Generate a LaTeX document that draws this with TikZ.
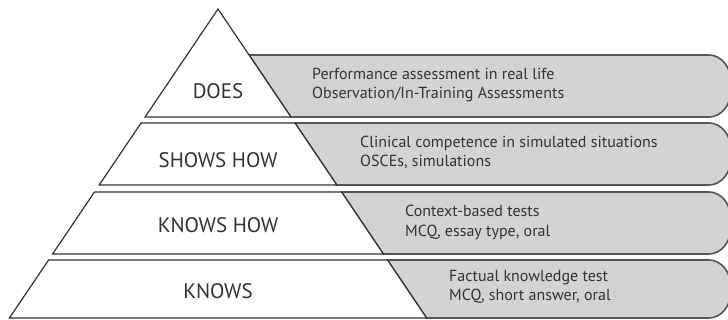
\documentclass[tikz,border=0pt]{standalone}
\usepackage{fontspec}
\setmainfont{PT Sans}
\definecolor{bandagris}{HTML}{D3D3D3}
\definecolor{bordegris}{HTML}{555555}
\definecolor{textogris}{HTML}{333333}
\begin{document}
\begin{tikzpicture}[x=1pt,y=-1pt,
  banda/.style={draw=bordegris,fill=bandagris,line width=1.6pt},
  capa/.style={draw=textogris,fill=white,line width=1.2pt,line join=miter},
  etiqueta/.style={text=textogris,font=\fontsize{21}{24}\selectfont,inner sep=0pt},
  detalle/.style={text=textogris,font=\fontsize{16}{19.5}\selectfont,align=left,anchor=west,inner sep=0pt}]
\def\pend{0.675};%pendiente de los lados
\def\cx{218};%vertice x
\def\cy{9};%vertice y
\def\xfin{731};%extremo derecho de las bandas
\def\rx{22};%radio horizontal del extremo
\def\ry{27};%radio vertical del extremo
\useasboundingbox (0,0) rectangle (728,320);
\clip (0,0) rectangle (728,320);

%Bandas grises
\foreach \t/\b in {55/117,123/185,192/254,260/318}{
    \draw[banda] ({\cx+\pend*(\b-\cy)},\b) -- ({\cx+\pend*(\t-\cy)},\t) -- (\xfin-\rx,\t)
        arc[start angle=-90,end angle=0,x radius=\rx,y radius=\ry] -- (\xfin,\b-\ry)
        arc[start angle=0,end angle=90,x radius=\rx,y radius=\ry] -- cycle;
}

%Piramide
\draw[capa] (\cx,\cy) -- ({\cx+\pend*(117-\cy)},117) -- ({\cx-\pend*(117-\cy)},117) -- cycle;
\foreach \t/\b in {123/185,192/254,260/318}{
    \draw[capa] ({\cx-\pend*(\t-\cy)},\t) -- ({\cx+\pend*(\t-\cy)},\t) -- ({\cx+\pend*(\b-\cy)},\b) -- ({\cx-\pend*(\b-\cy)},\b) -- cycle;
}

%Niveles
\node[etiqueta] (does) at (\cx,91) {DOES};
\node[etiqueta] (shows) at (\cx,160) {SHOWS HOW};
\node[etiqueta] (knowshow) at (\cx,225) {KNOWS HOW};
\node[etiqueta] (knows) at (\cx,291) {KNOWS};

%Evaluacion
\node[detalle] (tdoes) at (312,85) {Performance assessment in real life\\Observation/In-Training Assessments};
\node[detalle] (tshows) at (360,152.5) {Clinical competence in simulated situations\\OSCEs, simulations};
\node[detalle] (tknowshow) at (405,222.5) {Context-based tests\\MCQ, essay type, oral};
\node[detalle] (tknows) at (449,287) {Factual knowledge test\\MCQ, short answer, oral};
\end{tikzpicture}
\end{document}
